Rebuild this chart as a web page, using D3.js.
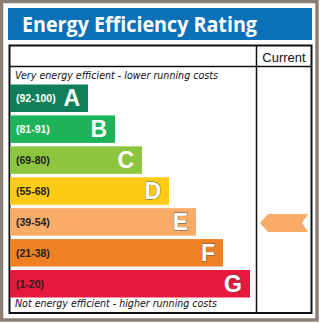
<!DOCTYPE html>
<html><head><meta charset="utf-8">
<script src="https://cdn.jsdelivr.net/npm/d3@7"></script>
<style>html,body{margin:0;padding:0;background:#fff}svg{display:block}</style>
</head><body>
<script>
const bands = ["A","B","C","D","E","F","G"];
const ranges = ["(92-100)","(81-91)","(69-80)","(55-68)","(39-54)","(21-38)","(1-20)"];
const colors = ["#0f7f5b","#1db35a","#8cc63f","#fdcb16","#f9ab68","#ef8125","#e8173d"];
const labelColors = ["#fff","#fff","#222","#222","#222","#222","#222"];
const widthRank = [1,2,3,4,5,6,7];
const currentBand = "E";
const currentColor = "#f9ab68";
const title = "Energy Efficiency Rating";
const colHeader = "Current";
const topNote = "Very energy efficient - lower running costs";
const bottomNote = "Not energy efficient - higher running costs";

const W = 322, H = 323;
const svg = d3.select("body").append("svg").attr("width", W).attr("height", H);

// outer frame
svg.append("rect").attr("x",1.5).attr("y",1.5).attr("width",315.5).attr("height",318.5)
  .attr("fill","#fff").attr("stroke","#8b7e74").attr("stroke-width",3.5);

// title bar
svg.append("rect").attr("x",8).attr("y",8).attr("width",304).attr("height",32).attr("fill","#0a71b9");
svg.append("text").attr("x",22).attr("y",32).text(title)
  .attr("font-family","Open Sans, DejaVu Sans, sans-serif").attr("font-weight","bold")
  .attr("font-size",21.5).attr("fill","#fff").attr("textLength",235).attr("lengthAdjust","spacingAndGlyphs");

// table
const tL = 9.5, tR = 311.5, tT = 45.5, tB = 313, colX = 256.5;
svg.append("rect").attr("x",tL).attr("y",tT).attr("width",tR-tL).attr("height",tB-tT)
  .attr("fill","none").attr("stroke","#111").attr("stroke-width",2);
svg.append("line").attr("x1",colX).attr("x2",colX).attr("y1",tT).attr("y2",tB).attr("stroke","#111").attr("stroke-width",1.5);
svg.append("line").attr("x1",tL).attr("x2",tR).attr("y1",66.5).attr("y2",66.5).attr("stroke","#111").attr("stroke-width",1.5);
svg.append("text").attr("x",(colX+tR)/2).attr("y",62).attr("text-anchor","middle").text(colHeader)
  .attr("font-family","Liberation Sans, Arial, sans-serif").attr("font-size",13).attr("fill","#111");

svg.append("text").attr("x",15).attr("y",79).text(topNote)
  .attr("font-family","DejaVu Sans, sans-serif").attr("font-style","italic").attr("font-size",10).attr("fill","#111")
  .attr("textLength",203).attr("lengthAdjust","spacingAndGlyphs");
svg.append("text").attr("x",15).attr("y",307).text(bottomNote)
  .attr("font-family","DejaVu Sans, sans-serif").attr("font-style","italic").attr("font-size",10).attr("fill","#111")
  .attr("textLength",202).attr("lengthAdjust","spacingAndGlyphs");

const y = d3.scaleBand().domain(bands).range([84.5, 297.5]).paddingInner(0.11).paddingOuter(0);
const xw = d3.scaleLinear().domain([1,7]).range([88,250]);

const g = svg.append("g");
bands.forEach((b,i)=>{
  const yy = y(b), h = y.bandwidth();
  g.append("rect").attr("x",10).attr("y",yy).attr("width",xw(widthRank[i])-10).attr("height",h).attr("fill",colors[i]);
  g.append("text").attr("x",16).attr("y",yy+h/2+4).text(ranges[i])
    .attr("font-family","Liberation Sans, Arial, sans-serif").attr("font-weight","bold").attr("font-size",10.5)
    .attr("fill",labelColors[i]);
  g.append("text").attr("x",xw(widthRank[i])-8).attr("y",yy+h/2+8).attr("text-anchor","end").text(b)
    .attr("font-family","Liberation Sans, Arial, sans-serif").attr("font-weight","bold").attr("font-size",23)
    .attr("fill","#fff").attr("stroke", i>=3 ? "#555" : "none").attr("stroke-width",0.8).attr("paint-order","stroke");
});

// current arrow
const cy = y(currentBand) + y.bandwidth()/2 + 1;
const ax0 = 260, ax1 = 308, ah = 9, notch = 6, tip = 8;
const path = d3.path();
path.moveTo(ax0, cy); path.lineTo(ax0+tip, cy-ah); path.lineTo(ax1, cy-ah);
path.lineTo(ax1-notch, cy); path.lineTo(ax1, cy+ah); path.lineTo(ax0+tip, cy+ah); path.closePath();
svg.append("path").attr("d", path.toString()).attr("fill", currentColor);
</script>
</body></html>
